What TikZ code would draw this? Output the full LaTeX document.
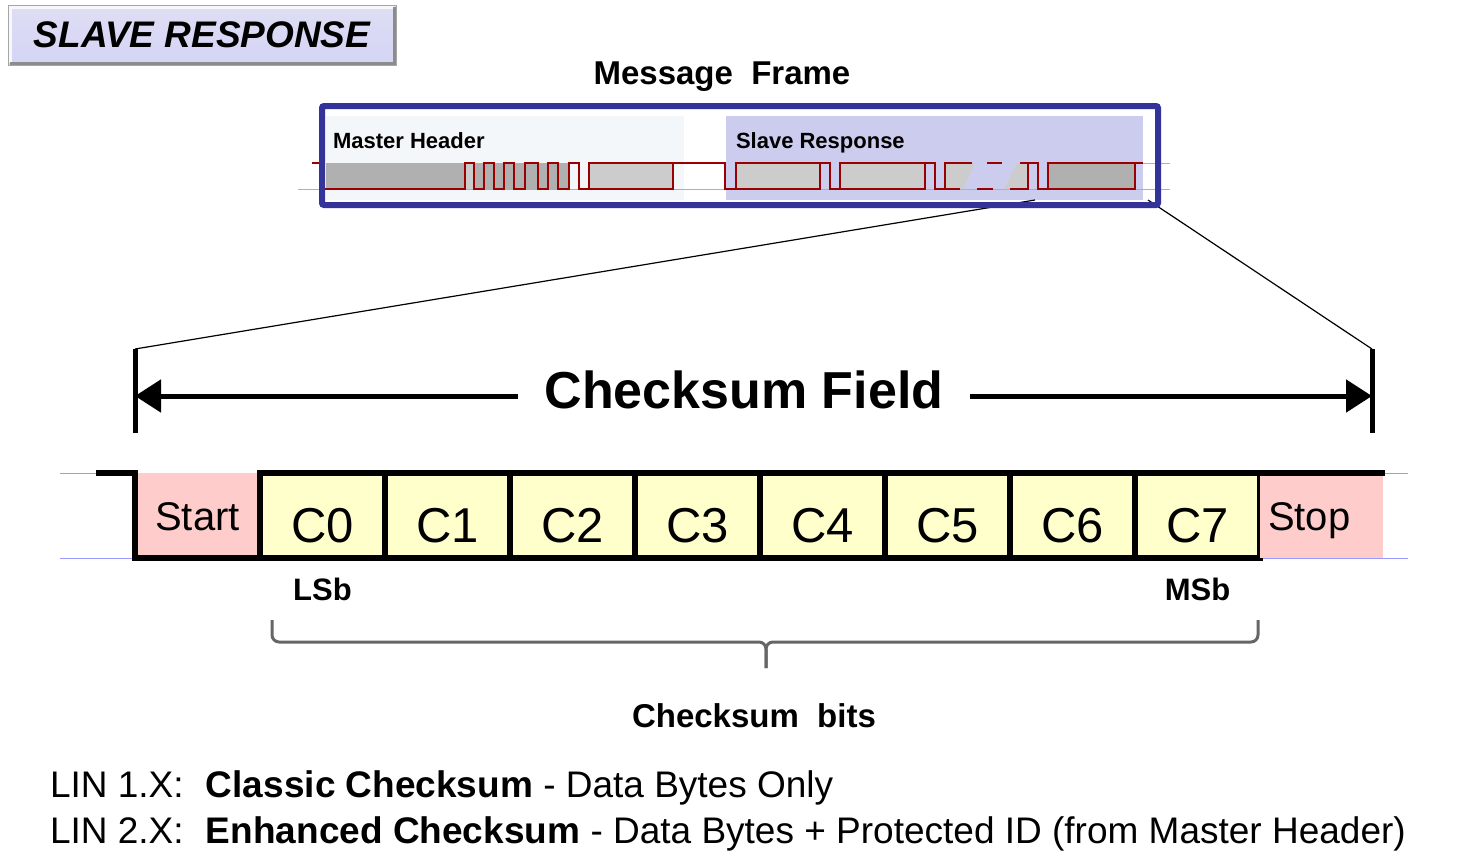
\documentclass[tikz,border=0pt]{standalone}
\usepackage{fontspec}
\setmainfont{Liberation Sans}
\usepackage{tikz}
\usetikzlibrary{positioning,arrows.meta}
\definecolor{frameblue}{HTML}{333399}
\definecolor{sigred}{HTML}{990000}
\definecolor{slavebg}{HTML}{CCCCEE}
\definecolor{masterbg}{HTML}{F4F7F9}
\definecolor{bytegray}{HTML}{CCCCCC}
\definecolor{breakgray}{HTML}{B0B0B0}
\definecolor{startpink}{HTML}{FFCCCC}
\definecolor{bityellow}{HTML}{FFFFCC}
\definecolor{busblue}{HTML}{9999FF}
\newcommand{\fsz}[1]{\fontsize{#1}{#1}\selectfont}

\begin{document}
\begin{tikzpicture}[x=1pt, y=-1pt,
	every node/.style={inner sep=0pt, outer sep=0pt},
	button/.style={minimum width=388pt, minimum height=60pt, top color=white!35!slavebg, bottom color=slavebg!90!blue!60!white, draw=gray!70, line width=1pt, font=\bfseries\itshape\fsz{37}, text height=25pt, text depth=0pt},
	wave/.style={sigred, line width=2.7pt},
	cellbox/.style={minimum width=125pt, minimum height=85pt, font=\fsz{40}, text height=29pt, text depth=0pt},
	startcell/.style={cellbox, fill=startpink},
	cbit/.style={cellbox, fill=bityellow, draw=black, line width=6pt, font=\fsz{49}, text height=53pt},
	stopcell/.style={cellbox, minimum width=123pt, fill=startpink, text width=107pt, align=left},
	bitwave/.style={black, line width=6pt},
	fieldbar/.style={black, line width=5pt},
	fieldarrow/.style={black, line width=5pt, -{Triangle[length=26pt, width=32pt]}},
	zoomline/.style={black, line width=1.2pt},
	bracket/.style={black!60, line width=3pt, rounded corners=7pt}]
	\useasboundingbox (0,0) rectangle (1460,863);

	% title button
	\node[button] (title) at (202,35) {SLAVE RESPONSE\hspace{10pt}};
	\draw[white!85!slavebg, line width=3pt] ([shift={(2pt,2pt)}]title.south west) -- ([shift={(2pt,-2pt)}]title.north west) -- ([shift={(-2pt,-2pt)}]title.north east);
	\draw[black!45, line width=3pt] ([shift={(-2pt,-2pt)}]title.north east) -- ([shift={(-2pt,2pt)}]title.south east) -- ([shift={(2pt,2pt)}]title.south west);

	% message frame
	\node[font=\bfseries\fsz{33}, anchor=base] (mftitle) at (722,84) {Message\ \ Frame};
	\fill[masterbg] (326,116) rectangle (684,200);
	\fill[slavebg] (726,116) rectangle (1143,200);
	\draw[breakgray, line width=1pt] (298,189) -- (1170,189);
	\draw[breakgray, line width=1pt] (1143,163) -- (1170,163);
	\fill[breakgray] (326,163) rectangle (465,189);
	\fill[bytegray] (465,163) rectangle (474,189);
	\fill[breakgray] (474,163) rectangle (569,189);
	\fill[bytegray] (589,163) rectangle (673,189);
	\fill[bytegray] (736,163) rectangle (820,189);
	\fill[bytegray] (840,163) rectangle (925,189);
	\fill[bytegray] (945,163) -- (975,163) -- (963,189) -- (945,189) -- cycle;
	\fill[bytegray] (1017,163) -- (1028,163) -- (1028,189) -- (1004,189) -- cycle;
	\fill[breakgray] (1048,163) rectangle (1135,189);
	\draw[wave] (312,163) -- (323,163) -- (323,189) -- (465,189) -- (465,163) -- (474,163) -- (474,189) -- (484,189) -- (484,163) -- (494,163) -- (494,189) -- (504,189) -- (504,163) -- (514,163) -- (514,189) -- (525,189) -- (525,163) -- (538,163) -- (538,189) -- (548,189) -- (548,163) -- (558,163) -- (558,189) -- (569,189) -- (569,163) -- (579,163) -- (579,189) -- (589,189) -- (589,163) -- (725,163) -- (725,189) -- (736,189) -- (736,163) -- (830,163) -- (830,189) -- (840,189) -- (840,163) -- (935,163) -- (935,189) -- (945,189) -- (945,163) -- (972,163);
	\draw[wave] (987,163) -- (1002,163);
	\draw[wave] (1020,163) -- (1038,163) -- (1038,189) -- (1048,189) -- (1048,163) -- (1143,163);
	\draw[wave] (589,189) -- (673,189) -- (673,163);
	\draw[wave] (736,189) -- (820,189) -- (820,163);
	\draw[wave] (840,189) -- (925,189) -- (925,163);
	\draw[wave] (945,189) -- (960,189);
	\draw[wave] (977,189) -- (993,189);
	\draw[wave] (1010,189) -- (1028,189) -- (1028,163);
	\draw[wave] (1048,189) -- (1135,189) -- (1135,163);
	\node[font=\bfseries\fsz{22}, anchor=base west] (mhlabel) at (333,148) {Master Header};
	\node[font=\bfseries\fsz{22}, anchor=base west] (srlabel) at (736,148) {Slave Response};

	% zoom lines
	\coordinate (ckpick) at (1035,200);
	\coordinate (fcorner) at (1148,200);
	\coordinate (fltop) at (135,349);
	\coordinate (flbot) at (135,433);
	\coordinate (frtop) at (1372,349);
	\coordinate (frbot) at (1372,433);
	\draw[zoomline] (ckpick) -- (fltop);
	\draw[zoomline] (fcorner) -- (frtop);
	\node[draw=frameblue, line width=6pt, rounded corners=2pt, minimum width=836pt, minimum height=99pt] (msgframe) at (740,155.5) {};

	% checksum field
	\node[font=\bfseries\fsz{52}, inner xsep=27pt, text height=24pt, text depth=0pt] (csf) at (744,396) {Checksum Field};
	\draw[fieldbar] (fltop) -- (flbot);
	\draw[fieldbar] (frtop) -- (frbot);
	\draw[fieldarrow] (csf.west) -- (csf.west -| fltop);
	\draw[fieldarrow] (csf.east) -- (csf.east -| frtop);

	% bit frame
	\draw[busblue, line width=1pt] (60,473) -- (1408,473);
	\draw[busblue, line width=1pt] (60,558) -- (1408,558);
	\node[startcell] (start) at (197.5,515.5) {Start};
	\node[cbit, right=0pt of start] (c0) {C0};
	\node[cbit, right=0pt of c0] (c1) {C1};
	\node[cbit, right=0pt of c1] (c2) {C2};
	\node[cbit, right=0pt of c2] (c3) {C3};
	\node[cbit, right=0pt of c3] (c4) {C4};
	\node[cbit, right=0pt of c4] (c5) {C5};
	\node[cbit, right=0pt of c5] (c6) {C6};
	\node[cbit, right=0pt of c6] (c7) {C7};
	\node[stopcell, right=0pt of c7] (stop) {Stop};
	\draw[bitwave] ([xshift=-39pt]start.north west) -- (start.north west) -- (start.south west) -- (c0.south west);
	\draw[bitwave] (stop.north west) -- ([xshift=2pt]stop.north east);
	\node[font=\bfseries\fsz{31}, below=20pt of c0] (lsb) {LSb};
	\node[font=\bfseries\fsz{31}, below=20pt of c7] (msb) {MSb};

	% checksum bits
	\coordinate (bl) at (272,620);
	\coordinate (br) at (1258,620);
	\coordinate (btip) at (766,668);
	\draw[bracket] (bl) |- (766,642) -- (btip);
	\draw[bracket] (br) |- (766,642) -- (btip);
	\node[font=\bfseries\fsz{33}, anchor=base] (csbits) at (754,727) {Checksum\ \ bits};

	% notes
	\node[font=\fsz{37}, anchor=base west] (lin1) at (50,797) {\makebox[156pt][l]{LIN 1.X:}\textbf{Classic Checksum} - Data Bytes Only};
	\node[font=\fsz{37}, anchor=base west] (lin2) at (50,843) {\makebox[156pt][l]{LIN 2.X:}\textbf{Enhanced Checksum} - Data Bytes + Protected ID (from Master Header)};
\end{tikzpicture}
\end{document}
